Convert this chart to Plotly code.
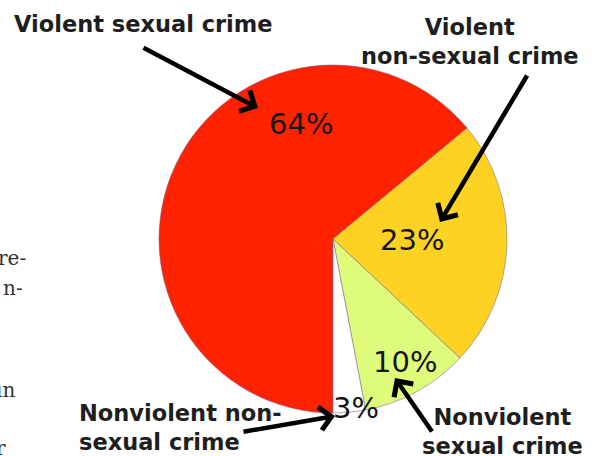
import plotly.graph_objects as go

W, H = 597, 456

# Data
categories = ["Violent sexual crime", "Violent non-sexual crime",
              "Nonviolent sexual crime", "Nonviolent non-sexual crime"]
values = [64, 23, 10, 3]
pct_labels = ["64%", "23%", "10%", "3%"]
colors = ["#FF2200", "#FDD222", "#DEFC7A", "#FFFFFF"]

callout_texts = ["Violent sexual crime", "Violent<br>non-sexual crime",
                 "Nonviolent<br>sexual crime", "Nonviolent non-<br>sexual crime"]
side_text = ["re-", "n-", "ın", ".", "r"]


def px(x):
    return x / W


def py(y):
    return 1 - y / H


fig = go.Figure()
cx, cy, r = 333, 239, 174
fig.add_trace(go.Pie(
    labels=categories, values=values, sort=False, direction="clockwise",
    rotation=180, textinfo="none", hoverinfo="label+percent",
    marker=dict(colors=colors, line=dict(color="rgba(120,100,150,0.55)", width=1)),
    domain=dict(x=[px(cx - r), px(cx + r)], y=[py(cy + r), py(cy - r)]),
    showlegend=False,
))

annotations = []

# percentage labels
pct_pos = [(301, 124), (412, 240), (405, 362), (356, 408)]
for t, (x, y) in zip(pct_labels, pct_pos):
    annotations.append(dict(x=px(x), y=py(y), xref="paper", yref="paper", text=t,
                            showarrow=False, xanchor="center", yanchor="middle",
                            font=dict(family="DejaVu Sans", size=29, color="#151515")))

# callout labels
lab_font = dict(family="DejaVu Sans", size=22.5, color="#1e1e1e")
annotations.append(dict(x=px(143), y=py(24), xref="paper", yref="paper",
                        text="<b>" + callout_texts[0] + "</b>", showarrow=False,
                        xanchor="center", yanchor="middle", font=lab_font))
annotations.append(dict(x=px(470), y=py(42), xref="paper", yref="paper",
                        text="<b>" + callout_texts[1] + "</b>", showarrow=False,
                        xanchor="center", yanchor="middle", align="center", font=lab_font))
annotations.append(dict(x=px(503), y=py(431), xref="paper", yref="paper",
                        text="<b>" + callout_texts[2] + "</b>", showarrow=False,
                        xanchor="center", yanchor="middle", align="center", font=lab_font))
annotations.append(dict(x=px(77), y=py(427), xref="paper", yref="paper",
                        text="<b>" + callout_texts[3] + "</b>", showarrow=False,
                        xanchor="left", yanchor="middle", align="left", font=lab_font))

# arrows (head, tail)
arrows = [((258, 108), (142, 47)), ((440, 222), (528, 74)),
          ((335, 416), (242, 432)), ((395, 378), (433, 433))]
for (hx, hy), (tx, ty) in arrows:
    annotations.append(dict(x=px(hx), y=py(hy), xref="paper", yref="paper",
                            ax=tx - hx, ay=ty - hy, axref="pixel", ayref="pixel",
                            text="", showarrow=True, arrowhead=4, arrowsize=1,
                            arrowwidth=4.5, arrowcolor="#000000"))

# clipped body text at left edge
side_pos = [(28, 258), (25, 288), (17, 390), (3, 419), (8, 448)]
for t, (x, y) in zip(side_text, side_pos):
    annotations.append(dict(x=px(x), y=py(y), xref="paper", yref="paper", text=t,
                            showarrow=False, xanchor="right", yanchor="middle",
                            font=dict(family="DejaVu Serif", size=20, color="#333333")))

fig.update_layout(
    width=W, height=H, margin=dict(l=0, r=0, t=0, b=0),
    paper_bgcolor="white", plot_bgcolor="white",
    annotations=annotations, showlegend=False,
)

fig.write_html("out.html", config={"displayModeBar": False},
               post_script="document.body.style.margin='0px';document.body.style.overflow='hidden';")
